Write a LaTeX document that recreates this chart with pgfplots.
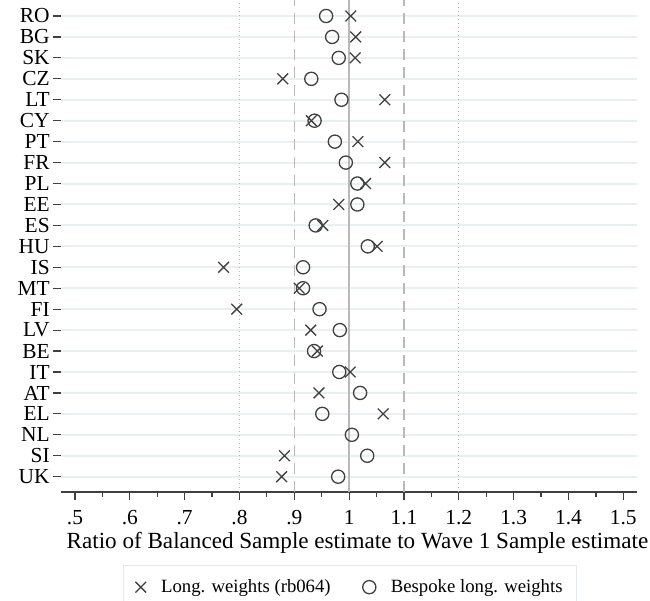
\documentclass[border=0pt]{standalone}
\usepackage{pgfplots}
\pgfplotsset{compat=1.18}
\usepackage{fontspec}
\setmainfont{Liberation Serif}
\definecolor{mk}{RGB}{64,64,64}
\definecolor{gridc}{RGB}{233,240,242}
\definecolor{refc}{RGB}{185,185,185}
\definecolor{legc}{RGB}{224,233,235}
\begin{document}
\begin{tikzpicture}
\begin{axis}[
  scale only axis,
  width=576.6bp, height=492bp,
  xmin=0.474, xmax=1.5255,
  ymin=0.269, ymax=23.764,
  axis x line*=bottom, axis y line*=left,
  y axis line style={draw=none},
  x axis line style={draw=mk, line width=1.3bp},
  tick align=outside,
  xtick={0.5,0.6,0.7,0.8,0.9,1,1.1,1.2,1.3,1.4,1.5},
  xticklabels={.5,.6,.7,.8,.9,1,1.1,1.2,1.3,1.4,1.5},
  minor x tick num=1,
  major tick length=8bp, minor tick length=5bp,
  every tick/.style={draw=mk, line width=1.2bp},
  ytick={1,...,23},
  yticklabels={UK,SI,NL,EL,AT,IT,BE,LV,FI,MT,IS,HU,ES,EE,PL,FR,PT,CY,LT,CZ,SK,BG,RO},
  ymajorgrids,
  major grid style={draw=gridc, line width=2bp},
  tick label style={font=\fontsize{21.5}{25}\selectfont},
  xticklabel style={yshift=-6.5bp},
  yticklabel style={xshift=0.5bp},
  xlabel={Ratio of Balanced Sample estimate to Wave 1 Sample estimate},
  xlabel style={font=\fontsize{23.2}{27}\selectfont, at={(rel axis cs:0.5147,0)}, anchor=base, yshift=-56bp},
  legend columns=2,
  legend style={at={(axis description cs:0.5017,-0.1484)}, anchor=north,
    draw=legc, line width=0.8bp, font=\fontsize{18.8}{22}\selectfont,
    inner xsep=12bp, inner ysep=12.5bp,
    /tikz/every odd column/.append style={column sep=13bp},
    /tikz/every even column/.append style={column sep=30bp}},
  clip=false,
]
\draw[refc, line width=0.8bp, dash pattern=on 1bp off 3bp] (axis cs:0.8,0.269) -- (axis cs:0.8,23.764);
\draw[refc, line width=0.8bp, dash pattern=on 1bp off 3bp] (axis cs:1.2,0.269) -- (axis cs:1.2,23.764);
\draw[refc, line width=1.3bp, dash pattern=on 11bp off 7bp] (axis cs:0.9,0.269) -- (axis cs:0.9,23.764);
\draw[refc, line width=1.3bp, dash pattern=on 11bp off 7bp] (axis cs:1.1,0.269) -- (axis cs:1.1,23.764);
\draw[refc, line width=1.3bp] (axis cs:1,0.269) -- (axis cs:1,23.764);
\addplot[only marks, mark=x, mark size=7.6bp, mark options={draw=mk, line width=1.3bp}] coordinates {
(0.877,1) (0.882,2) (1.062,4) (0.945,5) (1.002,6) (0.942,7) (0.930,8) (0.795,9) (0.909,10)
(0.771,11) (1.051,12) (0.952,13) (0.981,14) (1.030,15) (1.065,16) (1.016,17) (0.931,18)
(1.065,19) (0.879,20) (1.011,21) (1.012,22) (1.003,23)
};
\addlegendentry{Long. weights (rb064)}
\addplot[only marks, mark=o, mark size=6.6bp, mark options={draw=mk, line width=1.3bp}] coordinates {
(0.980,1) (1.033,2) (1.005,3) (0.951,4) (1.020,5) (0.982,6) (0.936,7) (0.983,8) (0.946,9) (0.916,10)
(0.916,11) (1.034,12) (0.939,13) (1.015,14) (1.015,15) (0.994,16) (0.974,17) (0.937,18)
(0.986,19) (0.931,20) (0.981,21) (0.969,22) (0.958,23)
};
\addlegendentry{Bespoke long. weights}
\coordinate (o) at (rel axis cs:0,0);
\end{axis}
\pgfresetboundingbox
\path (o) ++(-60.7bp,-109bp) rectangle ++(650bp,601bp);
\end{tikzpicture}
\end{document}
